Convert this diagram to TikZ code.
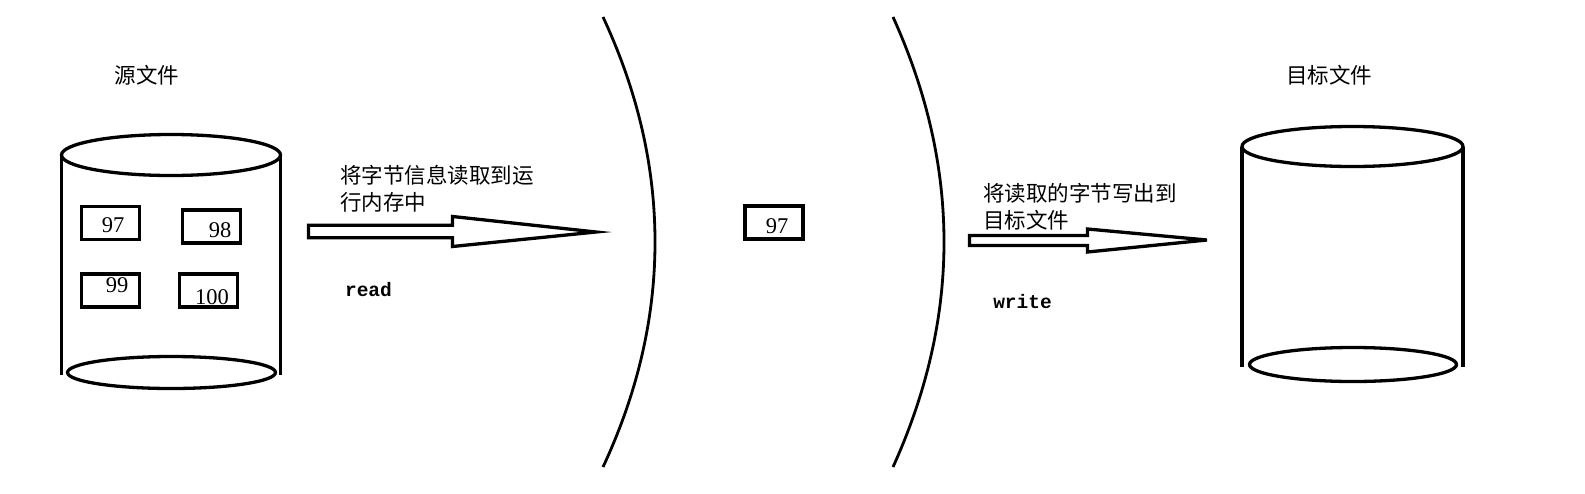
\documentclass[tikz,border=0pt]{standalone}
\usepackage{fontspec}
\setmainfont{Liberation Serif}
\setmonofont{Liberation Mono}
\newfontfamily\cjk{Noto Sans CJK SC}
\usetikzlibrary{positioning,calc}

\tikzset{
  cell/.style={draw, line width=3.3pt, minimum width=58pt, minimum height=33pt, inner sep=0pt},
  num/.style={inner sep=0pt, font=\fontsize{22.5}{22.5}\selectfont},
  caption/.style={inner sep=0pt, align=left, font=\cjk\fontsize{21.5}{27}\selectfont},
  code/.style={inner sep=0pt, font=\ttfamily\bfseries\fontsize{19.5}{20}\selectfont},
  wall/.style={line width=3.3pt},
  divider/.style={line width=2.8pt},
  blockarrow/.style={draw, line width=3.3pt},
}

\begin{document}
\begin{tikzpicture}[x=1pt, y=-1pt]
  \useasboundingbox (0,0) rectangle (1585,493);

  % Source file
  \draw[wall] (171,155) ellipse [x radius=109.5, y radius=20.5];
  \draw[wall] (61.5,155) -- (61.5,375);
  \draw[wall] (280.5,155) -- (280.5,375);
  \draw[wall] (171.5,372.5) ellipse [x radius=104, y radius=16];
  \node[caption] (src_title) at (147,75) {源文件};

  % Define nodes
  \node[cell] (src_97)  at (110.5,223)   {};
  \node[cell] (src_98)  at (211.5,226.5) {};
  \node[cell] (src_99)  at (110.5,290.5) {};
  \node[cell] (src_100) at (208.5,290.5) {};
  \node[num] at ($(src_97)+(2.5,2)$)    {97};
  \node[num] at ($(src_98)+(8.5,3.5)$)  {98};
  \node[num] at ($(src_99)+(6.5,-5.5)$) {99};
  \node[num] at ($(src_100)+(3.5,6.5)$) {100};

  % Memory
  \draw[divider] (603,17) .. controls (638,92) and (655,167) .. (655,242)
                          .. controls (655,317) and (638,392) .. (603,467);
  \draw[divider] (893,17) .. controls (927,92) and (944,167) .. (944,242)
                          .. controls (944,317) and (927,392) .. (893,467);
  \node[cell] (mem_97) at (774,222.5) {};
  \node[num] at ($(mem_97)+(3,3.5)$) {97};

  % Target file
  \draw[wall] (1352.5,146.5) ellipse [x radius=110.5, y radius=20];
  \draw[wall] (1242,146.5) -- (1242,367);
  \draw[wall] (1463,146.5) -- (1463,367);
  \draw[wall] (1353,364.5) ellipse [x radius=103.5, y radius=17];
  \node[caption] (dst_title) at (1329,75) {目标文件};

  % Connect the nodes
  \coordinate (read_tail) at (308.5,231.5);
  \coordinate (read_tip)  at (596,232);
  \draw[blockarrow] ($(read_tail)+(0,-6.2)$) -- ++(144,0) -- ++(0,-8.8) -- (read_tip)
                    -- ($(read_tail)+(144,15)$) -- ++(0,-8.8) -- ($(read_tail)+(0,6.2)$) -- cycle;
  \node[caption, anchor=west] (read_text) at (340,188.5) {将字节信息读取到运\\行内存中};
  \node[code] (read_label) at (368.5,290) {read};

  \coordinate (write_tail) at (969.5,240.5);
  \coordinate (write_tip)  at (1207,240);
  \draw[blockarrow] ($(write_tail)+(0,-5)$) -- ++(118,0) -- ++(0,-6.5) -- (write_tip)
                    -- ($(write_tail)+(118,11.5)$) -- ++(0,-6.5) -- ($(write_tail)+(0,5)$) -- cycle;
  \node[caption, anchor=west] (write_text) at (983,206.5) {将读取的字节写出到\\目标文件};
  \node[code] (write_label) at (1022.5,301.5) {write};

\end{tikzpicture}
\end{document}
